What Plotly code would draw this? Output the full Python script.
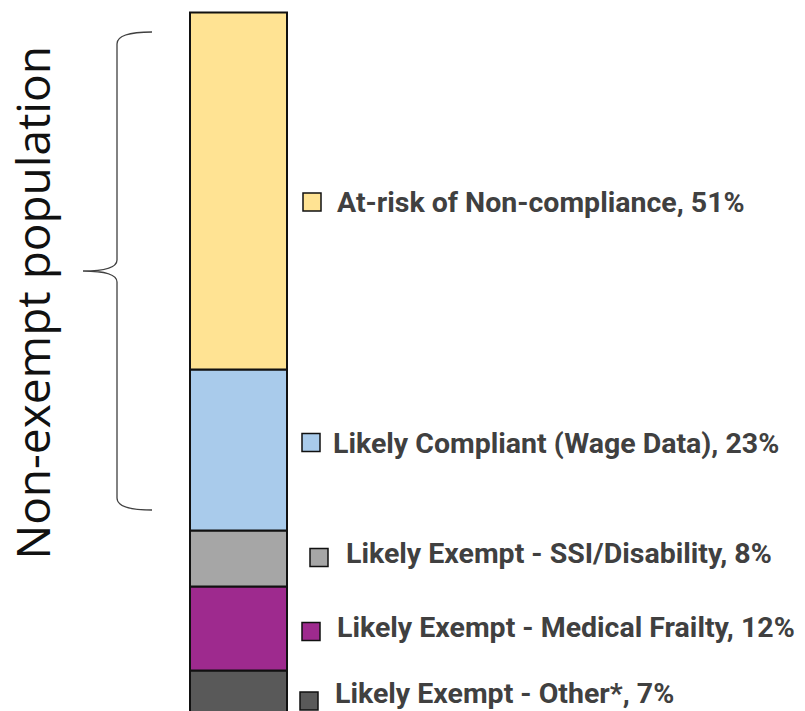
import plotly.graph_objects as go

# ---- data (bottom to top of the stack) ----
categories = [
    "Likely Exempt - Other*",
    "Likely Exempt - Medical Frailty",
    "Likely Exempt - SSI/Disability",
    "Likely Compliant (Wage Data)",
    "At-risk of Non-compliance",
]
shares = [7, 12, 8, 23, 51]
colors = ["#595959", "#9E2A8E", "#A6A6A6", "#A9CBEB", "#FFE393"]
bracket_label = "Non-exempt population"

# ---- layout helpers (pixels, window coordinates) ----
W, H = 805, 711
marker_dx = [13, 15, 23, 15, 16]       # marker left edge from bar right edge
text_dx = [46, 48, 57, 44, 48]         # text start from bar right edge
marker_dy = [6, 3, -1, -7.5, 11]       # marker centre offset from segment middle (down +)
text_dy = [-1.5, -1.5, -5, -7, 11]

fig = go.Figure()
base = 0
mids = []
for name, v, c in zip(categories, shares, colors):
    fig.add_trace(go.Bar(
        x=[0], y=[v], base=[base], width=1, name=name,
        marker=dict(color=c, line=dict(color="#111111", width=2)),
        hoverinfo="skip",
    ))
    mids.append(base + v / 2)
    base += v

total = base
px_per_unit = 7.0
y_top = total + 12.5 / px_per_unit
y_bot = y_top - H / px_per_unit
bar_w_px = 97
bar_cx = 238.5
x_lo = -bar_cx / bar_w_px
x_hi = (W - bar_cx) / bar_w_px

shapes = []
annotations = []
for i, (name, v, c, m) in enumerate(zip(categories, shares, colors, mids)):
    shapes.append(dict(
        type="rect", xref="x", yref="y",
        xsizemode="pixel", ysizemode="pixel",
        xanchor=0.5, yanchor=m,
        x0=marker_dx[i], x1=marker_dx[i] + 18,
        y0=-marker_dy[i] - 9, y1=-marker_dy[i] + 9,
        fillcolor=c, line=dict(color="#111111", width=1.5),
    ))
    annotations.append(dict(
        xref="x", yref="y", x=0.5, y=m, xanchor="left", yanchor="middle",
        xshift=text_dx[i], yshift=-text_dy[i],
        text=f"{name}, {v}%", showarrow=False,
        font=dict(family="Roboto", size=28.5, color="#404040", weight=700),
    ))

# curly brace (pixel coords -> paper)
def P(x, y):
    return f"{x / W:.5f},{1 - y / H:.5f}"

brace = (
    f"M {P(152, 32)} Q {P(117, 32)} {P(117, 44)} L {P(117, 260)} "
    f"Q {P(117, 271)} {P(83, 271)} Q {P(117, 271)} {P(117, 282)} "
    f"L {P(117, 498)} Q {P(117, 510)} {P(152, 510)}"
)
shapes.append(dict(type="path", xref="paper", yref="paper", path=brace,
                   line=dict(color="#404040", width=1.3)))

annotations.append(dict(
    xref="paper", yref="paper", x=32 / W, y=1 - 303.5 / H,
    xanchor="center", yanchor="middle", textangle=-90,
    text=bracket_label, showarrow=False,
    font=dict(family="Open Sans", size=46, color="#111111", weight=400),
))

fig.update_layout(
    width=W, height=H, margin=dict(l=0, r=0, t=0, b=0),
    barmode="overlay", showlegend=False,
    paper_bgcolor="white", plot_bgcolor="white",
    xaxis=dict(visible=False, range=[x_lo, x_hi], fixedrange=True),
    yaxis=dict(visible=False, range=[y_bot, y_top], fixedrange=True),
    shapes=shapes, annotations=annotations,
)

fig.write_html(
    "out.html",
    config={"displayModeBar": False, "staticPlot": True},
    post_script="document.body.style.margin='0';document.body.style.overflow='hidden';",
)
